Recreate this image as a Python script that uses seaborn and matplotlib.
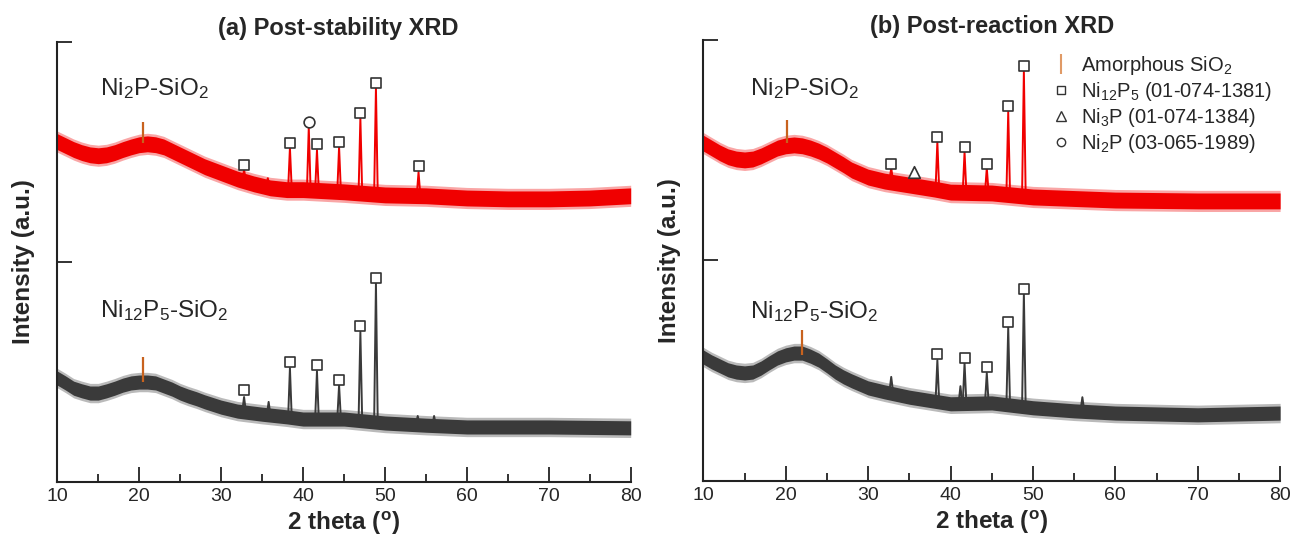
import numpy as np
import pandas as pd
import matplotlib
matplotlib.use("Agg")
import matplotlib.pyplot as plt
import seaborn as sns
from matplotlib.lines import Line2D

# ---------------- data ----------------
# (a) Post-stability, Ni2P-SiO2 (red) : centre of the noisy band
a_red_bx = [10, 11, 12, 13, 14, 15, 16, 17, 18, 19, 20, 21, 22, 23, 24, 25, 26, 27, 28,
            29, 30, 32, 34, 36, 38, 40, 45, 50, 55, 60, 65, 70, 75, 80]
a_red_by = [0.773, 0.764, 0.755, 0.748, 0.743, 0.741, 0.743, 0.748, 0.755, 0.761, 0.766,
            0.768, 0.766, 0.761, 0.752, 0.743, 0.734, 0.725, 0.716, 0.709, 0.702, 0.688,
            0.677, 0.668, 0.664, 0.664, 0.659, 0.652, 0.650, 0.645, 0.643, 0.643, 0.645,
            0.650]
a_red_px = [32.8, 35.7, 38.4, 40.7, 41.7, 44.4, 47.0, 48.9, 54.1]
a_red_top = [0.709, 0.690, 0.759, 0.806, 0.754, 0.761, 0.827, 0.895, 0.704]
a_red_base = [0.684, 0.670, 0.665, 0.664, 0.663, 0.660, 0.657, 0.654, 0.650]

# (a) Ni12P5-SiO2 (grey)
a_gry_bx = [10, 11, 12, 13, 14, 15, 16, 17, 18, 19, 20, 21, 22, 23, 24, 25, 26, 27, 28,
            30, 32, 35, 38, 40, 45, 50, 55, 60, 70, 80]
a_gry_by = [0.236, 0.225, 0.213, 0.207, 0.202, 0.202, 0.207, 0.213, 0.220, 0.225, 0.227,
            0.227, 0.225, 0.218, 0.211, 0.202, 0.195, 0.189, 0.182, 0.170, 0.161, 0.154,
            0.148, 0.143, 0.143, 0.134, 0.129, 0.125, 0.125, 0.123]
a_gry_px = [32.8, 35.8, 38.4, 41.7, 44.4, 47.0, 48.9, 54.0, 56.0]
a_gry_top = [0.193, 0.182, 0.259, 0.252, 0.220, 0.341, 0.452, 0.150, 0.150]
a_gry_base = [0.160, 0.152, 0.146, 0.143, 0.143, 0.140, 0.136, 0.130, 0.128]

# (b) Post-reaction, Ni2P-SiO2 (red)
b_red_bx = [10, 11, 12, 13, 14, 15, 16, 17, 18, 19, 20, 21, 22, 23, 24, 25, 26, 27, 28,
            30, 32, 35, 38, 40, 45, 50, 60, 70, 80]
b_red_by = [0.766, 0.755, 0.744, 0.735, 0.730, 0.728, 0.730, 0.737, 0.746, 0.755, 0.760,
            0.762, 0.760, 0.755, 0.748, 0.739, 0.728, 0.717, 0.705, 0.689, 0.680, 0.671,
            0.662, 0.655, 0.653, 0.644, 0.637, 0.635, 0.635]
b_red_px = [32.8, 38.4, 41.7, 44.4, 47.0, 48.9]
b_red_top = [0.710, 0.769, 0.746, 0.710, 0.837, 0.930]
b_red_base = [0.680, 0.661, 0.655, 0.653, 0.650, 0.646]

# (b) Ni12P5-SiO2 (grey)
b_gry_bx = [10, 11, 12, 13, 14, 15, 16, 17, 18, 19, 20, 21, 22, 23, 24, 25, 26, 27, 28,
            30, 32, 35, 38, 40, 45, 50, 55, 60, 70, 80]
b_gry_by = [0.281, 0.270, 0.261, 0.252, 0.247, 0.245, 0.247, 0.256, 0.268, 0.279, 0.286,
            0.290, 0.290, 0.283, 0.274, 0.261, 0.247, 0.236, 0.227, 0.211, 0.202, 0.190,
            0.181, 0.175, 0.177, 0.166, 0.159, 0.154, 0.150, 0.154]
b_gry_px = [32.8, 38.4, 41.2, 41.7, 44.4, 47.0, 48.9, 56.0]
b_gry_top = [0.236, 0.274, 0.215, 0.268, 0.245, 0.349, 0.426, 0.190]
b_gry_base = [0.202, 0.180, 0.176, 0.175, 0.177, 0.172, 0.168, 0.160]

# phase markers (x, y)
a_sq_x = [32.8, 38.4, 41.7, 44.4, 47.0, 48.9, 54.1, 32.8, 38.4, 41.7, 44.4, 47.0, 48.9]
a_sq_y = [0.720, 0.770, 0.768, 0.772, 0.838, 0.906, 0.718, 0.209, 0.273, 0.266, 0.232,
          0.354, 0.463]
a_ci_x = [40.7]
a_ci_y = [0.818]
b_sq_x = [32.8, 38.4, 41.7, 44.4, 47.0, 48.9, 38.4, 41.7, 44.4, 47.0, 48.9]
b_sq_y = [0.719, 0.780, 0.757, 0.719, 0.850, 0.941, 0.288, 0.279, 0.259, 0.361, 0.435]
b_tri_x = [35.6]
b_tri_y = [0.701]

# amorphous SiO2 ticks: x, y0, y1
a_am_x = [20.5, 20.5]
a_am_y0 = [0.770, 0.227]
a_am_y1 = [0.818, 0.284]
b_am_x = [20.2, 22.0]
b_am_y0 = [0.766, 0.286]
b_am_y1 = [0.819, 0.342]

titles = ["(a) Post-stability XRD", "(b) Post-reaction XRD"]
sample_labels = ["Ni$_\\mathregular{2}$P-SiO$_\\mathregular{2}$",
                 "Ni$_\\mathregular{12}$P$_\\mathregular{5}$-SiO$_\\mathregular{2}$"]
legend_labels = ["Amorphous SiO$_\\mathregular{2}$",
                 "Ni$_\\mathregular{12}$P$_\\mathregular{5}$ (01-074-1381)",
                 "Ni$_\\mathregular{3}$P (01-074-1384)",
                 "Ni$_\\mathregular{2}$P (03-065-1989)"]
x_ticks = [10, 20, 30, 40, 50, 60, 70, 80]

# ---------------- style ----------------
sns.set_style("ticks")
plt.rcParams["font.family"] = ["Liberation Sans", "DejaVu Sans"]
plt.rcParams["mathtext.fontset"] = "custom"
plt.rcParams["mathtext.rm"] = "Liberation Sans"
plt.rcParams["mathtext.it"] = "Liberation Sans:italic"
plt.rcParams["mathtext.bf"] = "Liberation Sans:bold"

RED = "#f00000"
GRY = "#3a3a3a"
ORG = "#c8621e"
MK = "#333333"

fig = plt.figure(figsize=(12.92, 5.40), dpi=100)
axA = fig.add_axes([0.04435, 0.1074, 0.4438, 0.8154])
axB = fig.add_axes([0.5444, 0.1093, 0.4464, 0.8167])


def draw_trace(ax, bx, by, px, ptop, pbase, color, hw):
    bx = np.asarray(bx, float)
    by = np.asarray(by, float)
    ax.fill_between(bx, by - hw - 0.006, by + hw + 0.006, color=color, lw=0, alpha=0.35)
    ax.fill_between(bx, by - hw, by + hw, color=color, lw=0)
    rows = []
    w = 0.22
    for i, (p, t, b) in enumerate(zip(px, ptop, pbase)):
        rows += [(i, p - w, b), (i, p, t), (i, p + w, b)]
    df = pd.DataFrame(rows, columns=["pk", "x", "y"])
    sns.lineplot(data=df, x="x", y="y", units="pk", estimator=None, sort=False,
                 color=color, lw=1.4, ax=ax, legend=False)


def markers(ax, xs, ys, m, size):
    if len(xs) == 0:
        return
    sns.scatterplot(x=xs, y=ys, marker=m, s=size, facecolor="white",
                    edgecolor=MK, linewidth=1.2, ax=ax, zorder=5, legend=False)


draw_trace(axA, a_red_bx, a_red_by, a_red_px, a_red_top, a_red_base, RED, 0.018)
draw_trace(axA, a_gry_bx, a_gry_by, a_gry_px, a_gry_top, a_gry_base, GRY, 0.016)
draw_trace(axB, b_red_bx, b_red_by, b_red_px, b_red_top, b_red_base, RED, 0.018)
draw_trace(axB, b_gry_bx, b_gry_by, b_gry_px, b_gry_top, b_gry_base, GRY, 0.016)

markers(axA, a_sq_x, a_sq_y, "s", 60)
markers(axA, a_ci_x, a_ci_y, "o", 60)
markers(axB, b_sq_x, b_sq_y, "s", 60)
markers(axB, b_tri_x, b_tri_y, "^", 70)

axA.vlines(a_am_x, a_am_y0, a_am_y1, color=ORG, lw=1.6, zorder=4)
axB.vlines(b_am_x, b_am_y0, b_am_y1, color=ORG, lw=1.6, zorder=4)

# sample labels
LBL = 17.5
axA.text(15.2, 0.879, sample_labels[0], fontsize=LBL, va="baseline", ha="left")
axA.text(15.2, 0.375, sample_labels[1], fontsize=LBL, va="baseline", ha="left")
axB.text(15.7, 0.875, sample_labels[0], fontsize=LBL, va="baseline", ha="left")
axB.text(15.7, 0.370, sample_labels[1], fontsize=LBL, va="baseline", ha="left")

for ax, t, tx in zip([axA, axB], titles, [0.49, 0.5]):
    ax.set_xlim(10, 80)
    ax.set_ylim(0, 1)
    ax.set_xticks(x_ticks)
    ax.set_xticks(np.arange(15, 80, 10), minor=True)
    ax.set_yticks([0.5, 1.0])
    ax.set_yticklabels([])
    ax.tick_params(axis="both", which="major", direction="in", length=11,
                   width=1.3, color="#222222", labelsize=14, pad=4)
    ax.tick_params(axis="x", which="minor", direction="in", length=6,
                   width=1.3, color="#222222")
    for s in ["top", "right"]:
        ax.spines[s].set_visible(False)
    for s in ["left", "bottom"]:
        ax.spines[s].set_linewidth(1.5)
        ax.spines[s].set_color("#222222")
    ax.set_xlabel("2 theta ($^\\mathbf{o}$)", fontsize=17.5, fontweight="bold", labelpad=4)
    ax.set_ylabel("Intensity (a.u.)", fontsize=17.5, fontweight="bold", labelpad=12)
    ax.set_title(t, fontsize=17, fontweight="bold", pad=5, x=tx)
    ax.set_facecolor("white")

handles = [
    Line2D([], [], color="#e09a66", marker="|", ls="none", markersize=15, mew=1.5),
    Line2D([], [], color=MK, marker="s", ls="none", markersize=6, mfc="white", mew=1.0),
    Line2D([], [], color=MK, marker="^", ls="none", markersize=7, mfc="white", mew=1.0),
    Line2D([], [], color=MK, marker="o", ls="none", markersize=6, mfc="white", mew=1.0),
]
axB.legend(handles, legend_labels, loc="upper left", bbox_to_anchor=(0.585, 0.987),
           frameon=False, fontsize=14.5, handlelength=1.2, handletextpad=0.4,
           labelspacing=0.16, borderaxespad=0.0)

fig.savefig("out.png", dpi=100, facecolor="white")
